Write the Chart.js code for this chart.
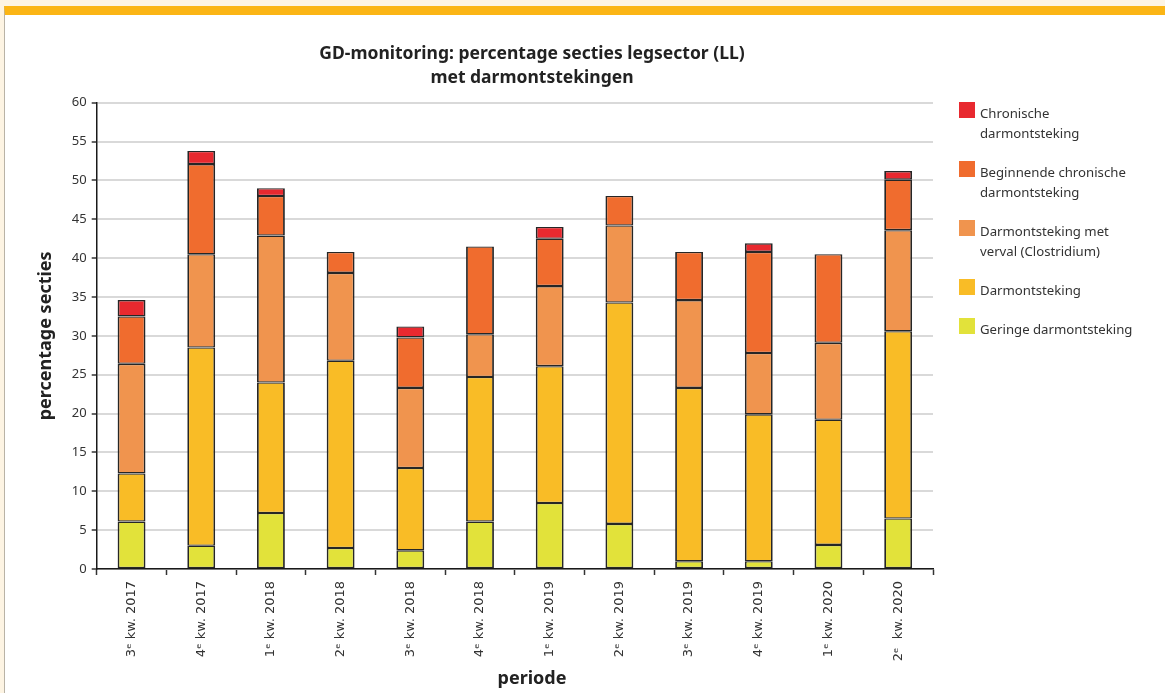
<!DOCTYPE html>
<html>
<head>
<meta charset="utf-8">
<script src="https://cdn.jsdelivr.net/npm/chart.js@4"></script>
<style>
    html, body { margin: 0; padding: 0; }
    body { width: 1165px; height: 693px; background: #fdf4e3; position: relative; overflow: hidden; }
    .panel { position: absolute; left: 4px; top: 6px; right: 0; bottom: 0; background: #fff;
             border-top: 9px solid #fbb515; border-left: 1px solid #b9b3a6; }
    .chart-box { position: absolute; left: 5px; top: 15px; width: 1054px; height: 678px; }
    .title { position: absolute; left: 0; width: 1064px; top: 40px; text-align: center;
             font-family: 'Noto Sans', sans-serif; font-weight: bold; font-size: 17.5px;
             line-height: 24px; color: #222; }
    .x-title { position: absolute; left: 0; width: 1064px; top: 665px; text-align: center;
               font-family: 'Noto Sans', sans-serif; font-weight: bold; font-size: 18px;
               line-height: 24px; color: #222; }
    .legend { position: absolute; left: 959px; top: 102px; font-family: 'Noto Sans', sans-serif;
              font-size: 13.2px; color: #333; }
    .legend-item { display: flex; align-items: flex-start; margin-bottom: 18px; }
    .legend-item span.box { width: 16px; height: 16px; flex: none; margin-right: 5px; }
    .legend-item span.txt { line-height: 20px; padding-top: 1px; }
</style>
</head>
<body>
<div class="panel"></div>
<div class="chart-box"><canvas id="gdChart"></canvas></div>
<div class="title">GD-monitoring: percentage secties legsector (LL)<br>met darmontstekingen</div>
<div class="x-title">periode</div>
<div class="legend" id="legend"></div>

<script>
// periods (x axis)
const periods = ['3ᵉ kw. 2017', '4ᵉ kw. 2017', '1ᵉ kw. 2018', '2ᵉ kw. 2018', '3ᵉ kw. 2018', '4ᵉ kw. 2018',
                 '1ᵉ kw. 2019', '2ᵉ kw. 2019', '3ᵉ kw. 2019', '4ᵉ kw. 2019', '1ᵉ kw. 2020', '2ᵉ  kw. 2020'];

// percentage secties per category (stacked, bottom to top)
const geringe   = [6.1, 3.0, 7.2, 2.7, 2.4, 6.1, 8.5, 5.8, 1.0, 1.0, 3.1, 6.5];
const darm      = [6.2, 25.5, 16.8, 24.1, 10.6, 18.6, 17.6, 28.5, 22.3, 18.9, 16.1, 24.1];
const verval    = [14.1, 12.0, 18.9, 11.3, 10.3, 5.5, 10.3, 9.9, 11.3, 7.9, 9.9, 13.0];
const beginnend = [6.1, 11.6, 5.1, 2.7, 6.5, 11.3, 6.1, 3.8, 6.2, 13.0, 11.4, 6.5];
const chronisch = [2.1, 1.7, 1.0, null, 1.4, null, 1.5, null, null, 1.1, null, 1.1];

const yTicks = [0, 5, 10, 15, 20, 25, 30, 35, 40, 45, 50, 55, 60];

const seriesNames = ['Geringe darmontsteking', 'Darmontsteking', ['Darmontsteking met', 'verval (Clostridium)'],
                     ['Beginnende chronische', 'darmontsteking'], ['Chronische', 'darmontsteking']];
const seriesColors = ['#e2e23a', '#f9bc26', '#f0944e', '#f06c2e', '#e8292f'];

document.addEventListener('DOMContentLoaded', function() {
    initChart();
    buildLegend();
});

function initChart() {
    const ctx = document.getElementById('gdChart');
    const values = [geringe, darm, verval, beginnend, chronisch];

    new Chart(ctx.getContext('2d'), {
        type: 'bar',
        data: {
            labels: periods,
            datasets: values.map((v, i) => ({
                label: Array.isArray(seriesNames[i]) ? seriesNames[i].join(' ') : seriesNames[i],
                data: v,
                backgroundColor: seriesColors[i],
                borderColor: '#262626',
                borderWidth: { top: 1.3, bottom: 1.3, left: 1.8, right: 1.8 },
                borderSkipped: false,
                barPercentage: 0.4,
                categoryPercentage: 1
            }))
        },
        options: {
            responsive: true,
            maintainAspectRatio: false,
            animation: false,
            layout: {
                padding: { left: 30, right: 126, top: 87.7, bottom: 5 }
            },
            plugins: {
                legend: { display: false },
                tooltip: { enabled: false }
            },
            scales: {
                x: {
                    stacked: true,
                    grid: {
                        display: true,
                        drawOnChartArea: false,
                        offset: true,
                        tickLength: 6,
                        tickColor: '#333',
                        tickWidth: 1.5
                    },
                    border: { display: true, color: '#1a1a1a', width: 1.5 },
                    ticks: {
                        autoSkip: false,
                        minRotation: 90,
                        maxRotation: 90,
                        padding: 6,
                        color: '#333',
                        font: { family: "'DejaVu Sans', sans-serif", size: 13 }
                    },
                    afterFit: function(scale) { scale.height = 119; }
                },
                y: {
                    stacked: true,
                    min: 0,
                    max: 60,
                    afterBuildTicks: function(scale) {
                        scale.ticks = yTicks.map(v => ({ value: v }));
                    },
                    grid: {
                        color: '#d9d9d9',
                        lineWidth: 2,
                        tickLength: 5,
                        tickColor: '#333',
                        tickWidth: 1.5
                    },
                    border: { display: true, color: '#1a1a1a', width: 1.5 },
                    ticks: {
                        padding: 5,
                        color: '#333',
                        font: { family: "'Noto Sans', sans-serif", size: 13 }
                    },
                    title: {
                        display: true,
                        text: 'percentage secties',
                        color: '#222',
                        font: { family: "'Noto Sans', sans-serif", size: 18, weight: 'bold' },
                        padding: 0
                    },
                    afterFit: function(scale) { scale.width = 61.7; }
                }
            }
        }
    });
}

// HTML legend, top to bottom like the original (reverse stack order)
function buildLegend() {
    const el = document.getElementById('legend');
    for (let i = seriesNames.length - 1; i >= 0; i--) {
        const item = document.createElement('div');
        item.className = 'legend-item';
        const box = document.createElement('span');
        box.className = 'box';
        box.style.background = seriesColors[i];
        const txt = document.createElement('span');
        txt.className = 'txt';
        const name = seriesNames[i];
        txt.innerHTML = Array.isArray(name) ? name.join('<br>') : name;
        item.appendChild(box);
        item.appendChild(txt);
        el.appendChild(item);
    }
}
</script>
</body>
</html>
